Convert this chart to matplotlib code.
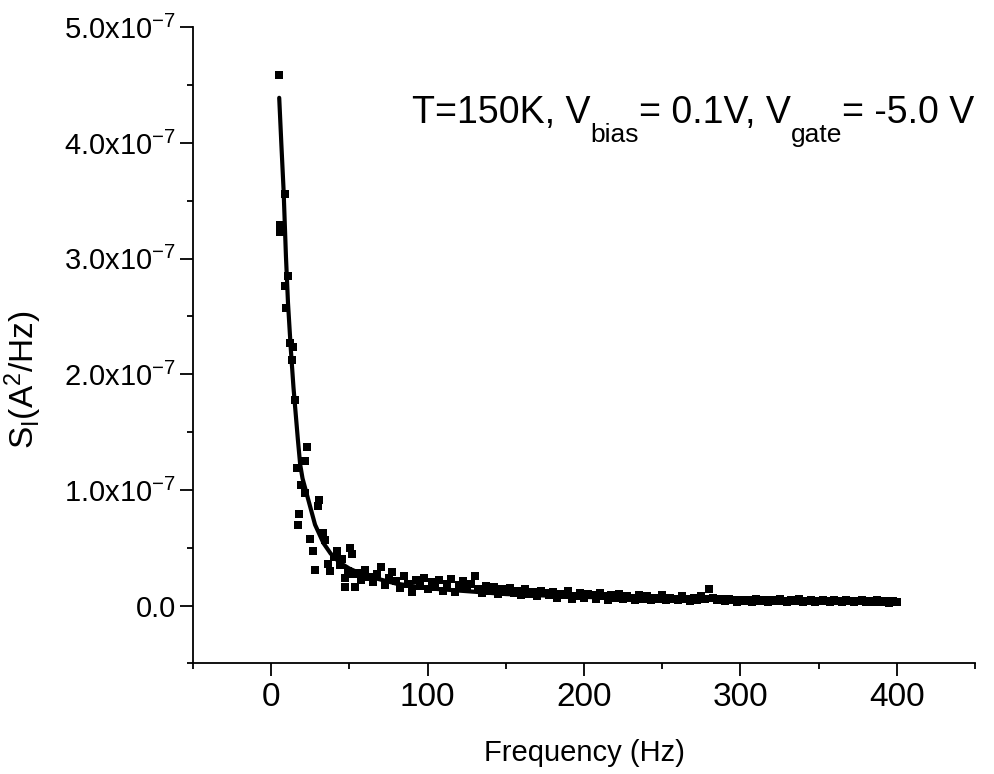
import numpy as np
import matplotlib.pyplot as plt
from matplotlib.ticker import MultipleLocator

plt.rcParams['font.family'] = ['Liberation Sans', 'DejaVu Sans']
plt.rcParams['mathtext.fontset'] = 'custom'
plt.rcParams['mathtext.rm'] = 'Liberation Sans'
plt.rcParams['mathtext.it'] = 'Liberation Sans:italic'
plt.rcParams['mathtext.bf'] = 'Liberation Sans:bold'

# Dados (S_I em unidades de 1e-7 A^2/Hz)
# região de baixa frequência (pontos espalhados)
f_low = [5.0, 5.3, 5.7, 8.5, 8.9, 9.6, 11.0, 11.7, 13.2, 14.2, 15.3, 16.4, 16.8,
         17.9, 19.2, 21.7, 21.7, 22.8, 24.9, 27.0, 28.1, 29.8, 30.8, 33.4, 34.5,
         36.2, 37.7, 40.0, 42.0, 44.0, 45.1, 47.3, 47.3, 49.0, 50.4, 51.5, 52.0, 53.6]
s_low = [4.59, 3.23, 3.29, 3.56, 2.76, 2.57, 2.85, 2.27, 2.12, 2.24, 1.78, 1.19, 0.70,
         0.79, 1.04, 1.25, 0.97, 1.37, 0.58, 0.47, 0.31, 0.86, 0.91, 0.63, 0.57,
         0.36, 0.30, 0.42, 0.47, 0.35, 0.40, 0.24, 0.16, 0.30, 0.50, 0.45, 0.27, 0.16]

# cauda: 55 Hz a 400 Hz, passo de 2.5 Hz
f_tail = np.arange(55, 400.1, 2.5)
s_tail = [0.28, 0.22, 0.31, 0.25, 0.20, 0.27, 0.33, 0.18, 0.24, 0.29,
          0.21, 0.15, 0.26, 0.19, 0.12, 0.22, 0.17, 0.24, 0.14, 0.20,
          0.16, 0.22, 0.13, 0.19, 0.23, 0.12, 0.18, 0.21, 0.15, 0.19,
          0.26, 0.14, 0.11, 0.17, 0.13, 0.16, 0.10, 0.14, 0.12, 0.15,
          0.11, 0.13, 0.09, 0.14, 0.10, 0.12, 0.08, 0.13, 0.11, 0.09,
          0.12, 0.07, 0.10, 0.09, 0.13, 0.06, 0.08, 0.11, 0.07, 0.10,
          0.09, 0.06, 0.11, 0.08, 0.05, 0.09, 0.07, 0.10, 0.06, 0.08,
          0.07, 0.05, 0.09, 0.06, 0.08, 0.05, 0.07, 0.06, 0.09, 0.05,
          0.07, 0.06, 0.05, 0.08, 0.06, 0.04, 0.07, 0.05, 0.08, 0.06,
          0.14, 0.07, 0.05, 0.06, 0.04, 0.06, 0.05, 0.03, 0.05, 0.04,
          0.05, 0.03, 0.06, 0.04, 0.05, 0.03, 0.05, 0.04, 0.06, 0.04,
          0.03, 0.05, 0.04, 0.06, 0.03, 0.04, 0.05, 0.03, 0.04, 0.05,
          0.04, 0.03, 0.05, 0.04, 0.03, 0.05, 0.04, 0.03, 0.04, 0.05,
          0.03, 0.04, 0.03, 0.05, 0.03, 0.04, 0.02, 0.04, 0.03]

# curva de ajuste
f_fit = [5.1, 6.5, 7.9, 9.4, 10.7, 12.5, 14.2, 15.5, 17.0, 18.5, 20.0, 23.8,
         28.0, 33.4, 38.0, 44.0, 50.0, 60.0, 80.0, 100.0, 150.0, 200.0, 250.0,
         300.0, 350.0, 400.0]
s_fit = [4.39, 3.98, 3.59, 3.02, 2.62, 2.22, 1.89, 1.68, 1.44, 1.22, 1.10, 0.91,
         0.70, 0.54, 0.45, 0.37, 0.32, 0.26, 0.19, 0.15, 0.10, 0.075, 0.06,
         0.05, 0.042, 0.035]

y_ticks = [0, 1, 2, 3, 4, 5]
y_labels = ['0.0'] + ['%d.0x10$^{-7}$' % v for v in y_ticks[1:]]
x_ticks = [0, 100, 200, 300, 400]

fig = plt.figure(figsize=(9.95, 7.74), dpi=100)
ax = fig.add_axes([0.194, 0.1428, 0.786, 0.822])

ax.plot(f_low, s_low, 's', color='black', ms=5.4, mew=0)
ax.plot(f_tail, s_tail, 's', color='black', ms=5.4, mew=0)
ax.plot(f_fit, s_fit, '-', color='black', lw=3, solid_capstyle='round')

ax.set_xlim(-50, 450)
ax.set_ylim(-0.5, 5.0)
ax.spines['top'].set_visible(False)
ax.spines['right'].set_visible(False)
for s in ['left', 'bottom']:
    ax.spines[s].set_linewidth(1.3)

ax.set_xticks(x_ticks)
ax.set_xticklabels([str(v) for v in x_ticks], fontsize=24)
ax.xaxis.set_minor_locator(MultipleLocator(50))
ax.set_yticks(y_ticks)
ax.set_yticklabels(y_labels, fontsize=21)
ax.yaxis.set_minor_locator(MultipleLocator(0.5))
ax.tick_params(which='major', direction='out', length=9.4, width=1.3)
ax.tick_params(which='minor', direction='out', length=4.5, width=1.3)
ax.tick_params(axis='x', which='major', pad=4)
ax.tick_params(axis='y', which='major', pad=3)

ax.set_xlabel('Frequency (Hz)', fontsize=21)
ax.xaxis.set_label_coords(0.5, -0.118)
ax.set_ylabel('S$_{\\mathrm{I}}$(A$^{2}$/Hz)', fontsize=24)
ax.yaxis.set_label_coords(-0.19, 0.446)

# Anotação com subscritos mais baixos, montada por partes
renderer = fig.canvas.get_renderer()
x_px, y_px = ax.transData.transform((90, 4.17))
partes = [('T=150K, V', 27, 0), ('bias', 19, -19), ('= 0.1V, V', 27, 0),
          ('gate', 19, -19), ('= -5.0 V', 27, 0)]
for txt, size, dy in partes:
    t = fig.text(x_px / fig.bbox.width, (y_px + dy) / fig.bbox.height, txt,
                 fontsize=size, ha='left', va='baseline')
    x_px = t.get_window_extent(renderer).x1

plt.savefig('out.png', dpi=100)
